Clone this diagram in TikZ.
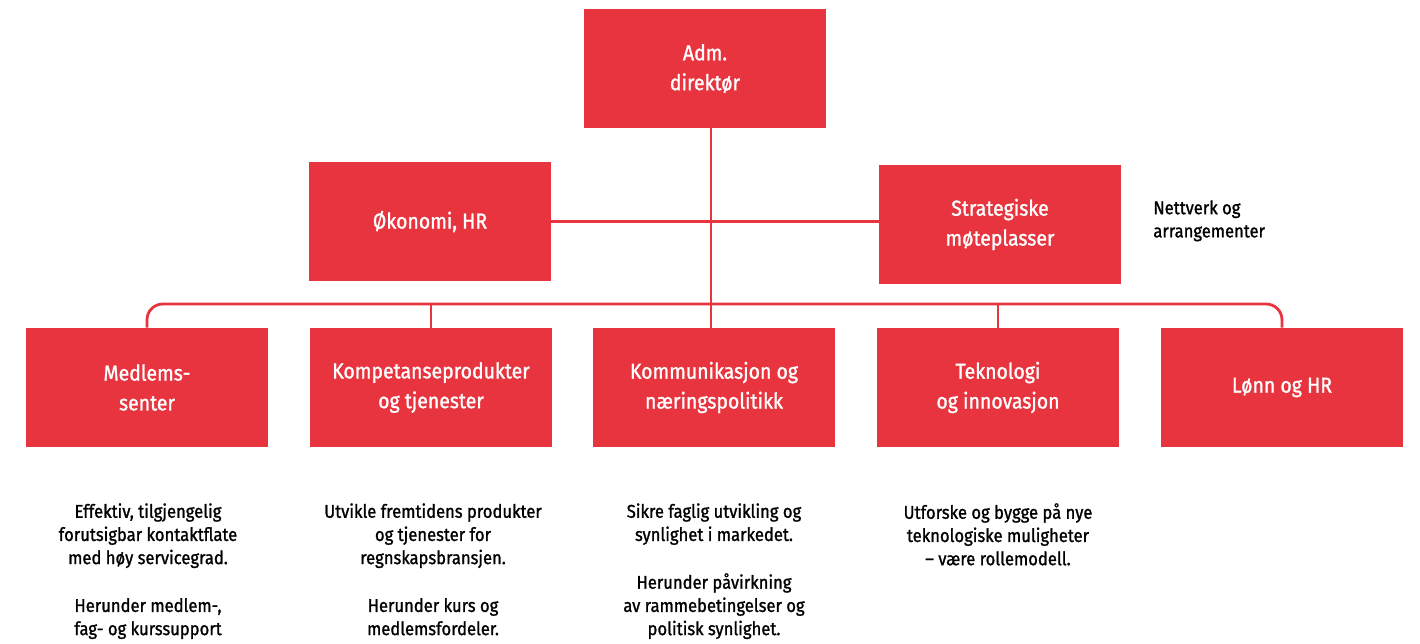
\documentclass[tikz,border=0pt]{standalone}
\usepackage{fontspec}
\setmainfont{Fira Sans}[FakeStretch=0.9,FakeBold=1.2]
\usepackage{tikz}
\usetikzlibrary{positioning}
\definecolor{orgred}{RGB}{232,52,62}

\begin{document}
\begin{tikzpicture}[x=0.02cm,y=-0.02cm,
  unit/.style={fill=orgred,text=white,minimum width=4.84cm,minimum height=2.38cm,align=center,inner sep=0pt,font=\fontsize{12.3}{17}\selectfont},
  desc/.style={align=center,anchor=north,inner sep=0pt,font=\fontsize{10.5}{13.2}\selectfont},
  link/.style={draw=orgred,line width=1.6pt}]
  \useasboundingbox (0,0) rectangle (1420,643);

  \node [unit] (adm) at (705,68.5) {Adm.\\direktør};
  \node [unit] (oko) at (430,221.5) {Økonomi, HR};
  \node [unit] (strat) at (1000,224.5) {Strategiske\\møteplasser};
  \node [align=left,anchor=north west,inner sep=0pt,font=\fontsize{10.5}{13.2}\selectfont] (nett) at (1153,200) {Nettverk og\\arrangementer};

  \node [unit] (medlem) at (147,387.5) {Medlems-\\senter};
  \node [unit] (komp) at (431,387.5) {Kompetanseprodukter\\og tjenester};
  \node [unit] (komm) at (714,387.5) {Kommunikasjon og\\næringspolitikk};
  \node [unit] (tek) at (998,387.5) {Teknologi\\og innovasjon};
  \node [unit] (lonn) at (1282,387.5) {Lønn og HR};

  \node [desc] (dmedlem) at (148,503) {Effektiv, tilgjengelig\\forutsigbar kontaktflate\\med høy servicegrad.\\[14pt]Herunder medlem-,\\fag- og kurssupport};
  \node [desc] (dkomp) at (433,503) {Utvikle fremtidens produkter\\og tjenester for\\regnskapsbransjen.\\[14pt]Herunder kurs og\\medlemsfordeler.};
  \node [desc] (dkomm) at (714,503) {Sikre faglig utvikling og\\synlighet i markedet.\\[14pt]Herunder påvirkning\\av rammebetingelser og\\politisk synlighet.};
  \node [desc] (dtek) at (998,503) {Utforske og bygge på nye\\teknologiske muligheter\\– være rollemodell.};

  \coordinate (spine) at (711,304);
  \path [link] (spine |- adm.south) -- (spine |- komm.north);
  \path [link] (oko.east) -- (oko.east -| strat.west);
  \path [link,rounded corners=9pt] (medlem.north) -- (medlem.north |- spine) -| (lonn.north);
  \path [link] (komp.north) -- (komp.north |- spine);
  \path [link] (tek.north) -- (tek.north |- spine);
\end{tikzpicture}
\end{document}
